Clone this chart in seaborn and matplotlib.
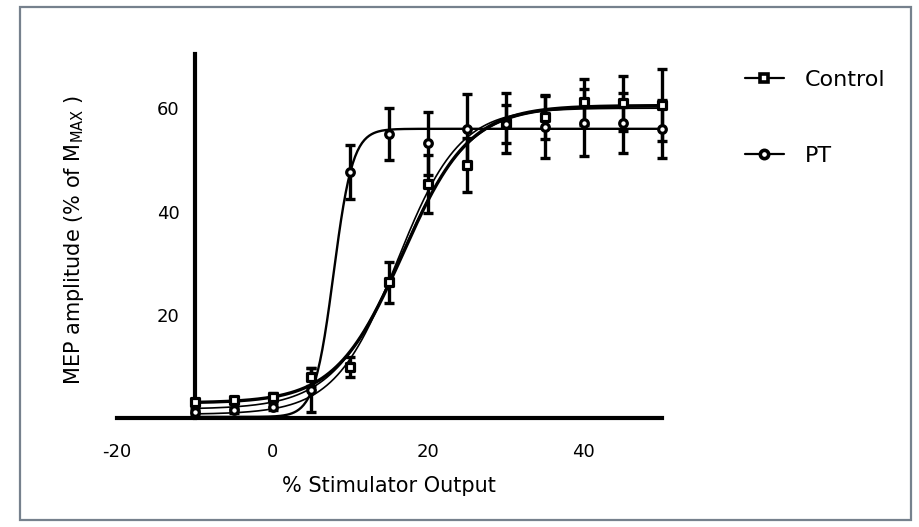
import numpy as np
import pandas as pd
import matplotlib.pyplot as plt
import seaborn as sns
from matplotlib.lines import Line2D
from matplotlib.patches import Rectangle

# Recruitment curve data (mean +/- SEM)
stim = [-10, -5, 0, 5, 10, 15, 20, 25, 30, 35, 40, 45, 50]
control_mean = [3.2, 3.6, 4.2, 8.0, 10.0, 26.3, 45.3, 49.0, 57.2, 58.2, 61.2, 60.9, 60.6]
control_sem = [0.6, 0.6, 0.7, 1.8, 1.9, 3.9, 5.6, 5.2, 5.8, 4.2, 4.5, 5.3, 6.9]
pt_mean = [1.3, 1.6, 2.3, 5.5, 47.7, 55.0, 53.2, 55.9, 56.9, 56.4, 57.2, 57.2, 55.9]
pt_sem = [0.5, 0.5, 0.6, 4.2, 5.2, 5.1, 6.1, 6.9, 3.7, 6.1, 6.4, 5.8, 5.6]

# Boltzmann fits drawn on the figure: bottom, top, V50, slope
fit_names = ["Control", "Control fit 2", "Control fit 3", "PT"]
fit_bottom = [3.0, 1.8, 0.8, 0.3]
fit_top = [60.5, 60.3, 60.0, 56.0]
fit_v50 = [16.7, 16.4, 16.0, 7.85]
fit_slope = [4.3, 4.4, 4.0, 1.23]

legend_labels = ["Control", "PT"]

sns.set_style("white")
plt.rcParams["font.family"] = ["DejaVu Sans"]
plt.rcParams["mathtext.fontset"] = "dejavusans"
plt.rcParams["axes.unicode_minus"] = False
plt.rcParams["text.color"] = "black"
plt.rcParams["axes.labelcolor"] = "black"

fig = plt.figure(figsize=(9.19, 5.27), dpi=100)
ax = fig.add_axes([0.1272, 0.2059, 0.5929, 0.692])

# fitted curves
xs = np.linspace(-10, 50, 400)
rows = []
for name, b, t, v, k in zip(fit_names, fit_bottom, fit_top, fit_v50, fit_slope):
    ys = b + (t - b) / (1 + np.exp((v - xs) / k))
    rows.append(pd.DataFrame({"x": xs, "y": ys, "fit": name}))
curves = pd.concat(rows, ignore_index=True)
widths = {"Control": 2.4, "Control fit 2": 1.2, "Control fit 3": 1.2, "PT": 1.7}
for name in fit_names:
    sns.lineplot(data=curves[curves["fit"] == name], x="x", y="y", color="black",
                 linewidth=widths[name], ax=ax, clip_on=False, zorder=2)

# error bars and markers
for mean, sem, mk in [(control_mean, control_sem, "s"), (pt_mean, pt_sem, "o")]:
    ax.errorbar(stim, mean, yerr=sem, fmt="none", ecolor="black", elinewidth=2.4,
                capsize=3.5, capthick=2.4, zorder=3, clip_on=False)
    sns.scatterplot(x=stim, y=mean, marker=mk, s=30, color="white", edgecolor="black",
                    linewidth=2.3, ax=ax, zorder=4, clip_on=False)

ax.set_xlim(-20, 50)
ax.set_ylim(0, 70.5)
ax.set_xticks([-20, 0, 20, 40])
ax.set_yticks([20, 40, 60])

for s in ["top", "right"]:
    ax.spines[s].set_visible(False)
ax.spines["left"].set_position(("data", -10))
ax.spines["left"].set_linewidth(3)
ax.spines["bottom"].set_linewidth(3)
ax.spines["left"].set_color("black")
ax.spines["bottom"].set_color("black")
ax.tick_params(axis="x", direction="out", length=6, width=3, pad=12, labelsize=13, colors="black")
ax.tick_params(axis="y", direction="out", length=6, width=3, pad=5, labelsize=13, colors="black")
ax.grid(False)

ax.set_xlabel("% Stimulator Output", fontsize=15)
ax.set_ylabel(r"MEP amplitude (% of M$_{\mathrm{MAX}}$ )", fontsize=15)
ax.xaxis.set_label_coords(0.5, -0.158)
ax.yaxis.set_label_coords(-0.056, 0.49)

handles = [
    Line2D([], [], color="black", lw=1.6, marker="s", markersize=6, mfc="white", mec="black", mew=2.6),
    Line2D([], [], color="black", lw=1.6, marker="o", markersize=6, mfc="white", mec="black", mew=2.6),
]
fig.legend(handles, legend_labels, loc="upper left", bbox_to_anchor=(745 / 919, 1 - 70 / 527),
           frameon=False, fontsize=16, handlelength=1.75, handletextpad=0.95,
           labelspacing=2.5, borderpad=0, borderaxespad=0)

# grey frame around the whole graphic
fig.add_artist(Rectangle((20 / 919, 7 / 527), 891 / 919, 513 / 527, transform=fig.transFigure,
                         fill=False, edgecolor="#76818d", lw=1.6))

plt.savefig("out.png", dpi=100)
